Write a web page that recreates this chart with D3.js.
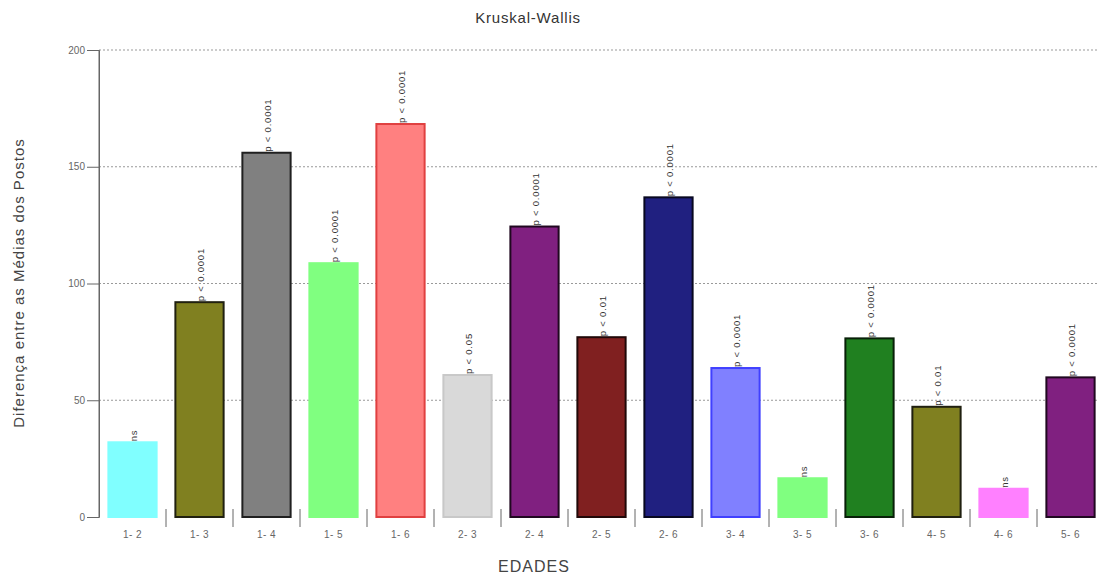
<!DOCTYPE html>
<html lang="pt">
<head>
    <meta charset="UTF-8">
    <title>Kruskal-Wallis</title>
    <script src="https://d3js.org/d3.v7.min.js"></script>
    <style>
        body { margin: 0; background: #fff; font-family: Arial, "Liberation Sans", sans-serif; }
    </style>
</head>
<body>
    <div id="chart"></div>
    <script>
        // dados
        const pares = ["1- 2", "1- 3", "1- 4", "1- 5", "1- 6", "2- 3", "2- 4", "2- 5", "2- 6", "3- 4", "3- 5", "3- 6", "4- 5", "4- 6", "5- 6"];
        const diferencas = [32, 92, 156, 108.7, 168.3, 60.8, 124.4, 77, 136.9, 63.8, 16.6, 76.5, 47.2, 12.1, 59.8];
        const significancia = ["ns", "p < 0.0001", "p < 0.0001", "p < 0.0001", "p < 0.0001", "p < 0.05", "p < 0.0001", "p < 0.01", "p < 0.0001", "p < 0.0001", "ns", "p < 0.0001", "p < 0.01", "ns", "p < 0.0001"];
        const yTicks = [0, 50, 100, 150, 200];

        const cores = ["#80ffff", "#808020", "#808080", "#80ff80", "#ff8080", "#d9d9d9", "#802080", "#802020", "#202080", "#8080ff", "#80ff80", "#208020", "#808020", "#ff80ff", "#802080"];
        const bordas = ["#80ffff", "#202010", "#202020", "#80ff80", "#e04040", "#c8c8c8", "#200820", "#200808", "#080820", "#4040ff", "#80ff80", "#082008", "#202010", "#ff80ff", "#200820"];

        const W = 1097, H = 578;
        const svg = d3.select("#chart").append("svg")
            .attr("width", W).attr("height", H);

        const x = d3.scaleBand().domain(pares).range([99, 1104]).paddingInner(0.28).paddingOuter(0.14);
        const xs = d3.scaleBand().domain(pares).range([99, 1104]);
        const y = d3.scaleLinear().domain([0, 200]).range([517, 50]);

        // grade
        svg.append("g").selectAll("line").data(yTicks.filter(d => d > 0)).join("line")
            .attr("x1", 99).attr("x2", W)
            .attr("y1", d => y(d)).attr("y2", d => y(d))
            .attr("stroke", "#999").attr("stroke-dasharray", "2,2").attr("stroke-width", 1);

        // eixo y
        const yAxis = svg.append("g").attr("transform", "translate(99,0)")
            .call(d3.axisLeft(y).tickValues(yTicks).tickSize(12).tickPadding(2));
        yAxis.select(".domain").attr("stroke", "#666");
        yAxis.selectAll(".tick line").attr("stroke", "#666");
        yAxis.selectAll(".tick text").attr("fill", "#666").style("font-size", "10px");

        // barras
        svg.append("g").selectAll("rect").data(pares).join("rect")
            .attr("x", d => x(d))
            .attr("y", (d, i) => y(diferencas[i]))
            .attr("width", x.bandwidth())
            .attr("height", (d, i) => y(0) - y(diferencas[i]))
            .attr("fill", (d, i) => cores[i])
            .attr("stroke", (d, i) => bordas[i])
            .attr("stroke-width", 2);

        // rótulos de significância
        svg.append("g").selectAll("text").data(pares).join("text")
            .attr("transform", (d, i) => `translate(${x(d) + x.bandwidth() / 2 + 4},${y(diferencas[i]) - 1}) rotate(-90)`)
            .attr("text-anchor", "start")
            .attr("fill", "#333")
            .style("font-size", "9.5px")
            .style("letter-spacing", "0.8px")
            .text((d, i) => significancia[i]);

        // eixo x (separadores)
        svg.append("g").selectAll("line").data(pares).join("line")
            .attr("x1", d => xs(d) + xs.bandwidth())
            .attr("x2", d => xs(d) + xs.bandwidth())
            .attr("y1", 509).attr("y2", 527)
            .attr("stroke", "#666");
        svg.append("line").attr("x1", 99).attr("x2", 99).attr("y1", 50).attr("y2", 517).attr("stroke", "#666");

        svg.append("g").selectAll("text").data(pares).join("text")
            .attr("x", d => xs(d) + xs.bandwidth() / 2)
            .attr("y", 538)
            .attr("text-anchor", "middle")
            .attr("fill", "#666")
            .style("font-size", "10px")
            .style("letter-spacing", "0.5px")
            .text(d => d);

        // títulos
        svg.append("text").attr("x", 528).attr("y", 23).attr("text-anchor", "middle")
            .attr("fill", "#333").style("font-size", "15px").style("letter-spacing", "0.8px").text("Kruskal-Wallis");
        svg.append("text").attr("x", 534).attr("y", 572).attr("text-anchor", "middle")
            .attr("fill", "#444").style("font-size", "16px").style("letter-spacing", "1px").text("EDADES");
        svg.append("text").attr("transform", "translate(24,283) rotate(-90)").attr("text-anchor", "middle")
            .attr("fill", "#444").style("font-size", "15px").style("letter-spacing", "1px").text("Diferença entre as Médias dos Postos");
    </script>
</body>
</html>
